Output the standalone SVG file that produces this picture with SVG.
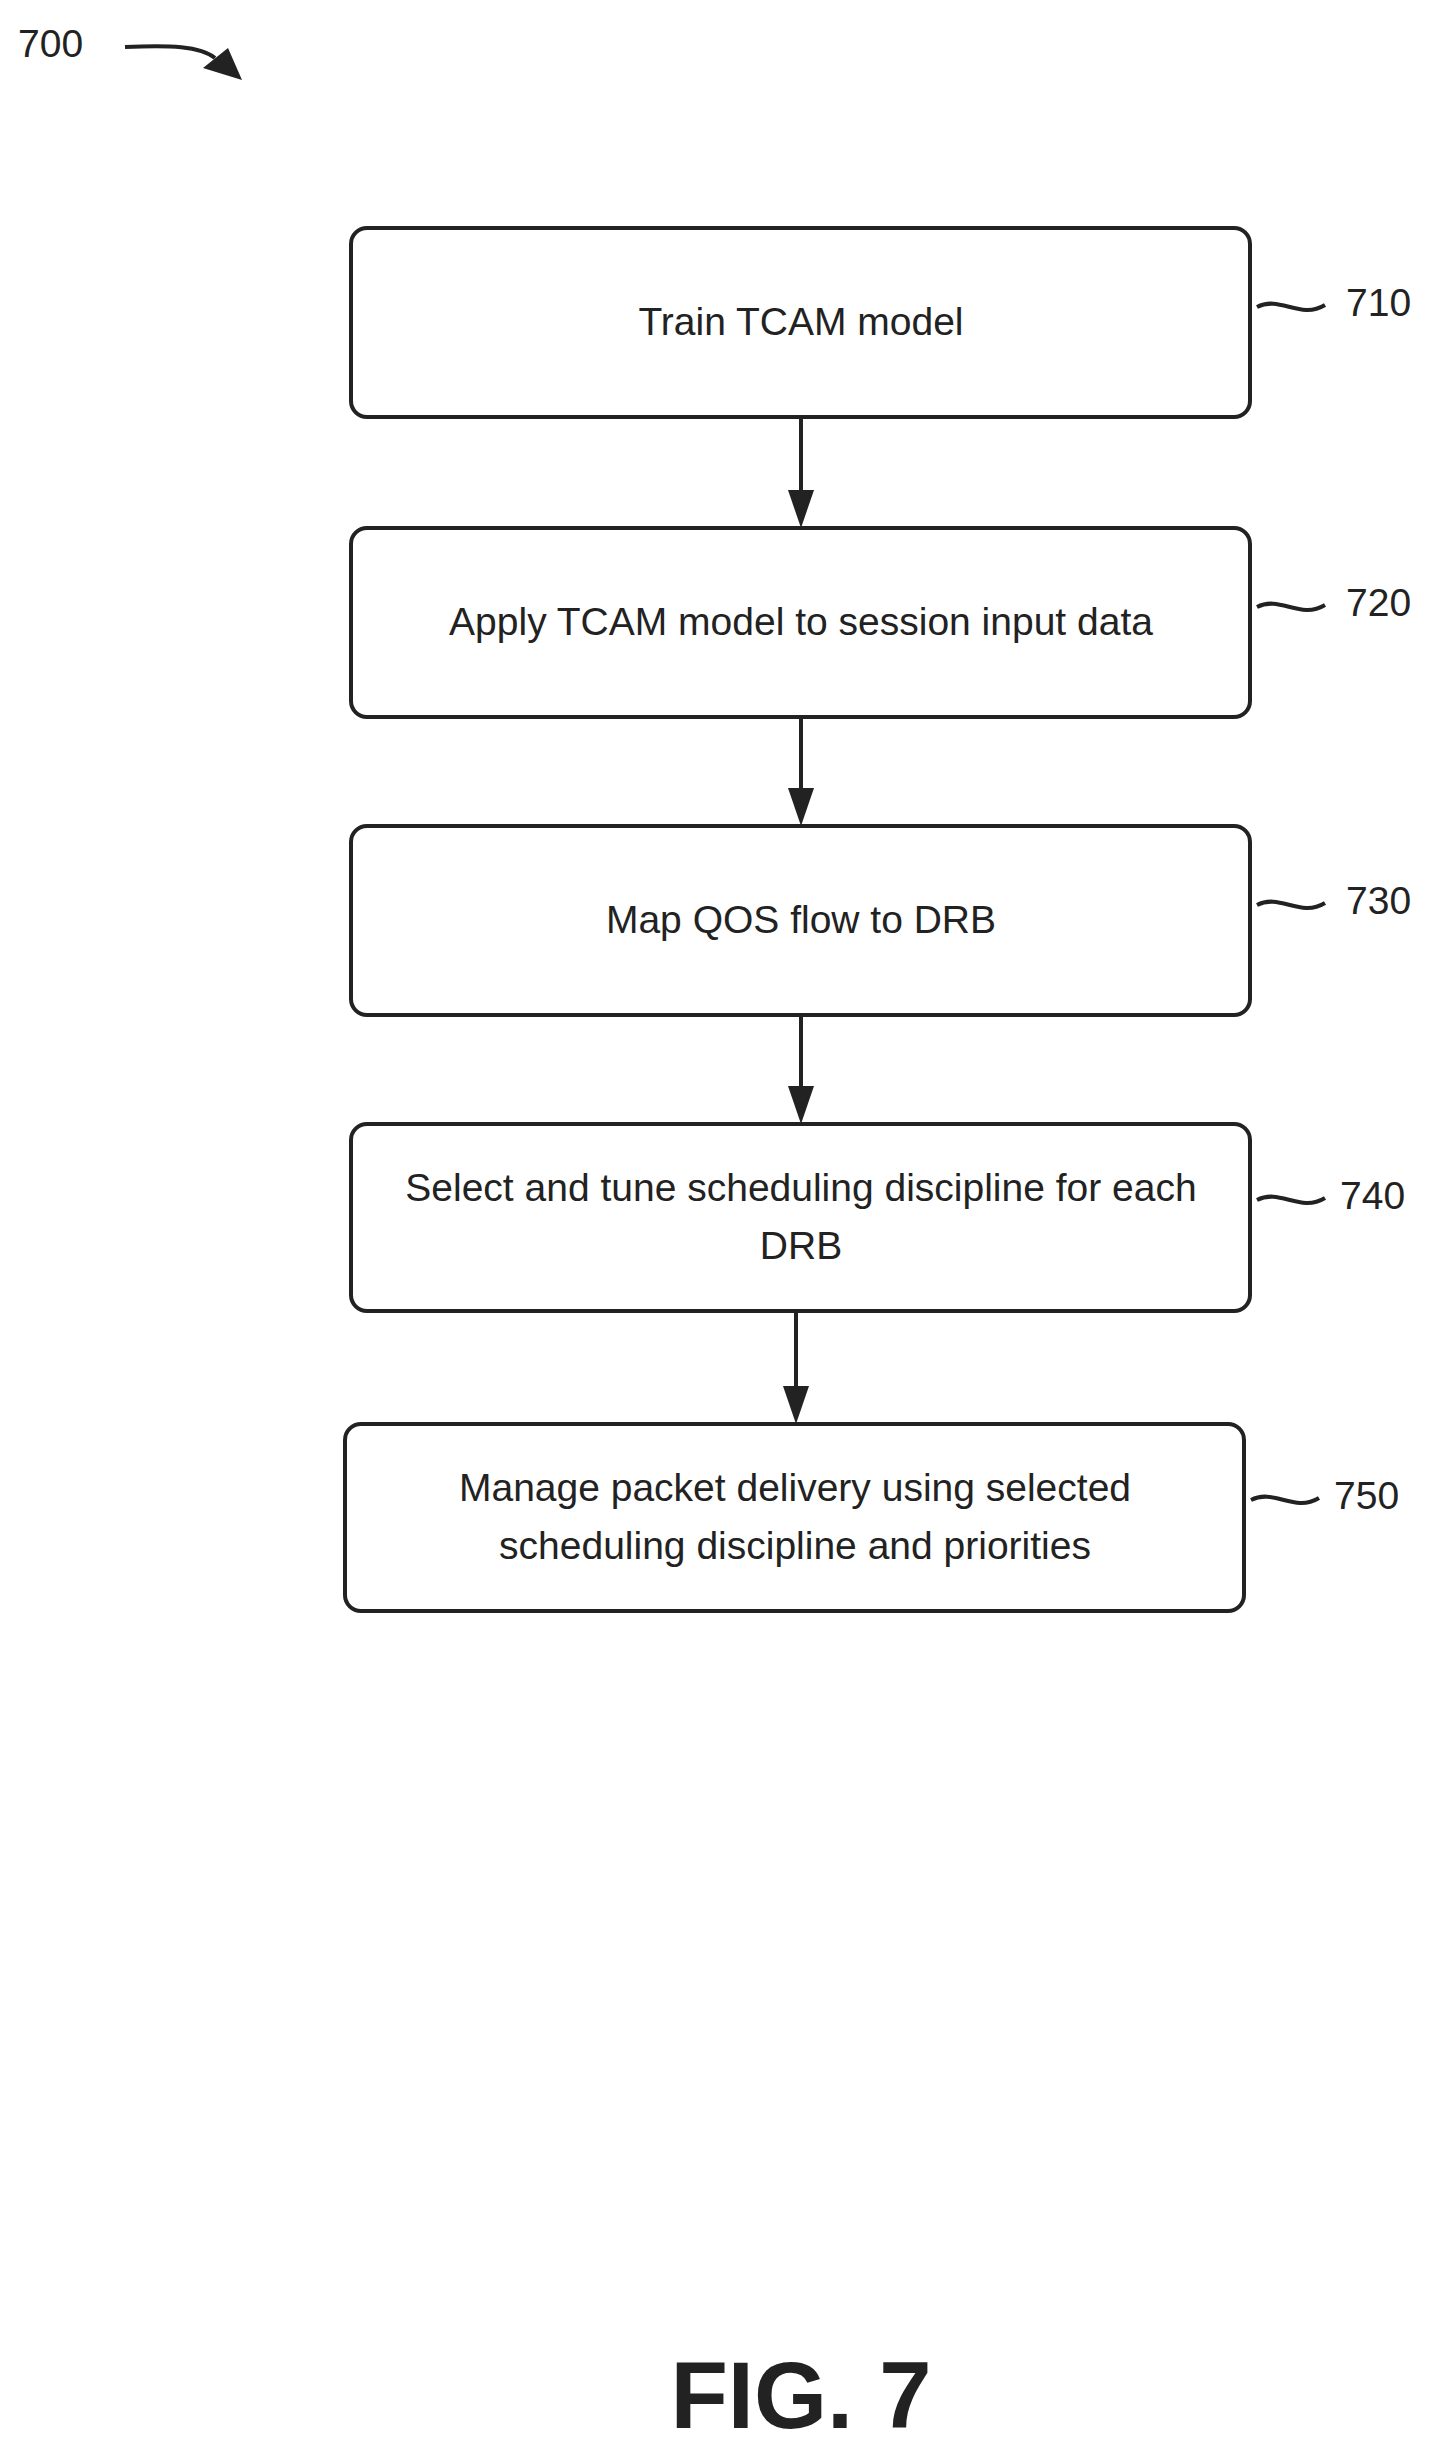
<svg xmlns="http://www.w3.org/2000/svg" width="1436" height="2453" viewBox="0 0 1436 2453">
<defs>
<marker id="ah" viewBox="0 0 10 10" refX="10" refY="5" markerWidth="8" markerHeight="8" markerUnits="userSpaceOnUse" orient="auto"><path d="M0,0 L10,5 L0,10 z" fill="#222"/></marker>
<style>
.box{fill:#fff;stroke:#222;stroke-width:4}
.t{font-family:"Liberation Sans",Arial,sans-serif;font-size:39px;fill:#222;text-anchor:middle}
.lbl{font-family:"Liberation Sans",Arial,sans-serif;font-size:39px;fill:#222}
.c{stroke:#222;stroke-width:4;fill:none}
.ar{fill:#222}
</style>
</defs>
<rect width="1436" height="2453" fill="#fff"/>
<text class="lbl" x="18" y="57">700</text>
<path class="c" d="M125,47 C170,45 200,46 215,58"/>
<path class="ar" d="M203,68 L228,48 L242,80 z"/>
<g id="n710"><rect class="box" x="351" y="228" width="899" height="189" rx="16"/><text class="t" x="801" y="335">Train TCAM model</text><path class="c" d="M1257,307 C1280,295 1300,320 1325,305"/><text class="lbl" x="1346" y="316">710</text></g>
<g id="n720"><rect class="box" x="351" y="528" width="899" height="189" rx="16"/><text class="t" x="801" y="635">Apply TCAM model to session input data</text><path class="c" d="M1257,607 C1280,595 1300,620 1325,605"/><text class="lbl" x="1346" y="616">720</text></g>
<g id="n730"><rect class="box" x="351" y="826" width="899" height="189" rx="16"/><text class="t" x="801" y="933">Map QOS flow to DRB</text><path class="c" d="M1257,905 C1280,893 1300,918 1325,903"/><text class="lbl" x="1346" y="914">730</text></g>
<g id="n740"><rect class="box" x="351" y="1124" width="899" height="187" rx="16"/><text class="t" x="801" y="1201">Select and tune scheduling discipline for each</text><text class="t" x="801" y="1259">DRB</text><path class="c" d="M1257,1200 C1280,1188 1300,1213 1325,1198"/><text class="lbl" x="1340" y="1209">740</text></g>
<g id="n750"><rect class="box" x="345" y="1424" width="899" height="187" rx="16"/><text class="t" x="795" y="1501">Manage packet delivery using selected</text><text class="t" x="795" y="1559">scheduling discipline and priorities</text><path class="c" d="M1251,1500 C1274,1488 1294,1513 1319,1498"/><text class="lbl" x="1334" y="1509">750</text></g>
<g id="connectors">
<line class="c" x1="801" y1="417" x2="801" y2="495"/><path class="ar" d="M788,490 L814,490 L801,528 z"/>
<line class="c" x1="801" y1="717" x2="801" y2="793"/><path class="ar" d="M788,788 L814,788 L801,826 z"/>
<line class="c" x1="801" y1="1015" x2="801" y2="1091"/><path class="ar" d="M788,1086 L814,1086 L801,1124 z"/>
<line class="c" x1="796" y1="1311" x2="796" y2="1391"/><path class="ar" d="M783,1386 L809,1386 L796,1424 z"/>
</g>
<text x="801" y="2428" font-family="Liberation Sans,Arial,sans-serif" font-weight="bold" font-size="94" fill="#222" text-anchor="middle">FIG. 7</text>
</svg>
